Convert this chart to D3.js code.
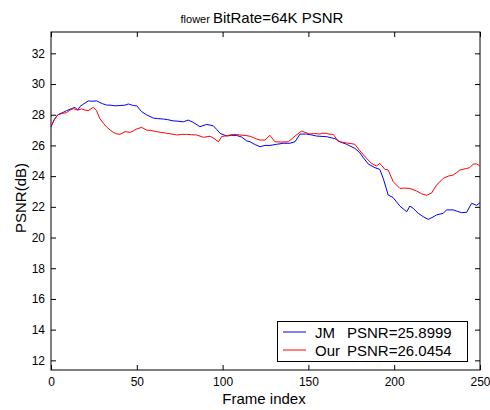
<!DOCTYPE html>
<html>
<head>
<meta charset="utf-8">
<script src="https://cdn.jsdelivr.net/npm/d3@7/dist/d3.min.js"></script>
<style>
  html, body { margin: 0; padding: 0; background: #fff; }
  svg { display: block; font-family: "Liberation Sans", Arial, sans-serif; }
</style>
</head>
<body>
<svg id="chart" width="490" height="410"></svg>
<script>
// Per-frame PSNR (dB) of the "flower" sequence at 64K bit rate.
const jmFrames = [0,2,4,7,9,12,14,15.5,17,19,21.7,24,26.6,28.4,30,32.4,35,37.3,40.2,43,45.1,48,50,52.8,55.7,59.6,62,65.4,68,71.3,74,77.1,80,82.9,86.8,90.7,94.6,96.5,98.5,102.4,105,108.2,111,114,116,119,121.8,124.7,127.6,131.4,135.3,139.2,142.2,145.1,149,152,154.8,160.6,165.5,168.4,172.3,177.1,180,182,184.9,188.8,191.6,193.6,196.5,199.4,203.3,207.3,209.1,211.1,214,217,219.8,222,224.7,228.6,230.5,234.4,237,239.3,242.2,245.1,248,250];
const jmPsnr = [27.2,27.7,28.0,28.15,28.26,28.4,28.48,28.3,28.55,28.7,28.9,28.88,28.9,28.8,28.72,28.63,28.62,28.58,28.6,28.62,28.7,28.6,28.58,28.2,28.0,27.78,27.75,27.72,27.68,27.6,27.58,27.54,27.65,27.5,27.22,27.37,27.28,27.05,26.79,26.61,26.66,26.65,26.55,26.3,26.24,26.05,25.92,26.0,26.0,26.07,26.14,26.14,26.24,26.74,26.74,26.68,26.61,26.57,26.44,26.24,26.07,25.81,25.52,25.2,24.79,24.55,24.44,23.86,22.77,22.6,22.05,21.68,22.05,21.9,21.58,21.35,21.18,21.3,21.47,21.58,21.8,21.8,21.7,21.62,21.64,22.23,22.1,22.27];

const ourFrames = [0,2,4,7,9,11,13,15.5,17.8,20,21.7,24.6,26.6,28.4,30.5,32.4,34.5,36.3,38,40.2,43.1,46.1,48,49.9,52.8,55.7,58,61.6,64,67.4,70,73.3,76,79,82,84.9,88.8,92.7,95,97.6,99.5,103,106.3,110,113,116,119,121.8,124.7,127.6,130.5,134.4,138.3,142.2,146.1,148,150.9,153,156.8,158,160.6,162,164.5,167.4,170,172.3,175,177.1,180,183.9,186.8,189.7,191.6,194.6,196.5,199.4,203.3,206,209.1,213,216,218.8,221.8,224.7,228.6,231.5,234.4,236,238.3,242.2,244,246.1,248,250];
const ourPsnr = [27.25,27.7,28.0,28.1,28.13,28.3,28.4,28.3,28.38,28.3,28.26,28.48,28.26,27.76,27.45,27.2,27.0,26.85,26.76,26.72,26.9,26.85,26.95,27.07,27.18,27.0,26.98,26.9,26.85,26.79,26.75,26.68,26.72,26.72,26.7,26.68,26.53,26.6,26.45,26.24,26.58,26.65,26.72,26.68,26.65,26.6,26.45,26.35,26.35,26.66,26.24,26.22,26.24,26.61,26.94,26.85,26.74,26.78,26.74,26.8,26.78,26.74,26.72,26.26,26.2,26.16,26.12,26.07,25.65,25.16,24.83,24.66,24.83,24.44,24.4,23.64,23.2,23.22,23.2,23.03,22.85,22.75,22.9,23.42,23.86,24.0,24.07,24.2,24.4,24.5,24.55,24.79,24.8,24.66];

const xTicks = [0, 50, 100, 150, 200, 250];
const yTicks = [12, 14, 16, 18, 20, 22, 24, 26, 28, 30, 32];
const seriesNames = ["JM", "Our"];
const seriesMeans = ["25.8999", "26.0454"];
const seriesColors = ["#0000ff", "#ff0000"];

const plot = { left: 51, right: 480, top: 32, bottom: 370 };

const svg = d3.select("#chart");

const x = d3.scaleLinear().domain([0, 250]).range([plot.left, plot.right]);
const y = d3.scaleLinear().domain([11.37, 33.39]).range([plot.bottom, plot.top]);

// Axes: ticks point inward on all four sides, labels on left and bottom only.
function styleAxis(g) {
  g.select(".domain").remove();
  g.selectAll("line").attr("stroke", "#000");
  g.selectAll("text").attr("fill", "#000").attr("font-size", 12)
    .attr("font-family", "\"Liberation Sans\", Arial, sans-serif");
}

svg.append("g")
  .attr("transform", `translate(0,${plot.bottom})`)
  .call(d3.axisBottom(x).tickValues(xTicks).tickSizeInner(-5).tickSizeOuter(0).tickPadding(7).tickFormat(d3.format("d")))
  .call(styleAxis);

svg.append("g")
  .attr("transform", `translate(0,${plot.top})`)
  .call(d3.axisTop(x).tickValues(xTicks).tickSizeInner(-5).tickSizeOuter(0).tickFormat(""))
  .call(styleAxis);

svg.append("g")
  .attr("transform", `translate(${plot.left},0)`)
  .call(d3.axisLeft(y).tickValues(yTicks).tickSizeInner(-5).tickSizeOuter(0).tickPadding(6).tickFormat(d3.format("d")))
  .call(styleAxis);

svg.append("g")
  .attr("transform", `translate(${plot.right},0)`)
  .call(d3.axisRight(y).tickValues(yTicks).tickSizeInner(-5).tickSizeOuter(0).tickFormat(""))
  .call(styleAxis);

// Plot frame
svg.append("rect")
  .attr("x", plot.left).attr("y", plot.top)
  .attr("width", plot.right - plot.left).attr("height", plot.bottom - plot.top)
  .attr("fill", "none").attr("stroke", "#000").attr("stroke-width", 1);

// PSNR curves
const series = [
  { frames: jmFrames, values: jmPsnr },
  { frames: ourFrames, values: ourPsnr }
];
const line = d3.line().x(d => x(d[0])).y(d => y(d[1]));

series.forEach((s, i) => {
  const pts = s.frames.map((f, k) => [f, s.values[k]]);
  svg.append("path")
    .datum(pts)
    .attr("d", line)
    .attr("fill", "none")
    .attr("stroke", seriesColors[i])
    .attr("stroke-width", 1)
    .attr("stroke-linejoin", "round");
});

// Title
const title = svg.append("text")
  .attr("x", 262).attr("y", 22.5)
  .attr("text-anchor", "middle")
  .attr("fill", "#000");
title.append("tspan").attr("font-size", 11).text("flower ");
title.append("tspan").attr("font-size", 15).text("BitRate=64K PSNR");

// Axis titles
svg.append("text")
  .attr("x", 264).attr("y", 404)
  .attr("text-anchor", "middle")
  .attr("font-size", 15).attr("fill", "#000")
  .text("Frame index");

svg.append("text")
  .attr("transform", "translate(26,198) rotate(-90)")
  .attr("text-anchor", "middle")
  .attr("font-size", 15).attr("fill", "#000")
  .text("PSNR(dB)");

// Legend
const legend = svg.append("g");
legend.append("rect")
  .attr("x", 277.5).attr("y", 321.5).attr("width", 190).attr("height", 40)
  .attr("fill", "#fff").attr("stroke", "#000").attr("stroke-width", 1);

seriesNames.forEach((name, i) => {
  const cy = 332 + i * 18;
  legend.append("line")
    .attr("x1", 283).attr("x2", 306).attr("y1", cy).attr("y2", cy)
    .attr("stroke", seriesColors[i]).attr("stroke-width", 1);
  legend.append("text")
    .attr("x", 315).attr("y", cy + 5.5)
    .attr("font-size", 15).attr("fill", "#000")
    .text(name);
  legend.append("text")
    .attr("x", 347).attr("y", cy + 5.5)
    .attr("font-size", 15).attr("fill", "#000")
    .text("PSNR=" + seriesMeans[i]);
});
</script>
</body>
</html>
